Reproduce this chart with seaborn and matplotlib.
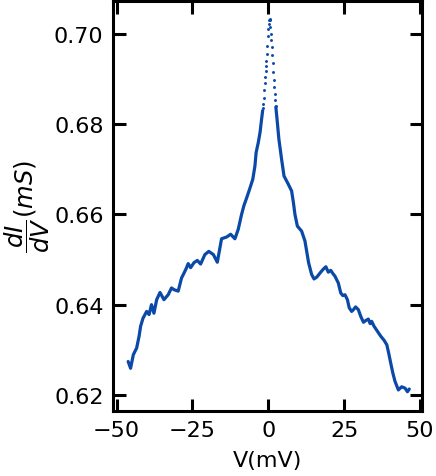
import matplotlib
matplotlib.use("Agg")
import matplotlib.pyplot as plt
import seaborn as sns
import numpy as np

# Left branch (V in mV, dI/dV in mS)
v_left = [-46.2, -45.4, -44.5, -43.4, -42.6, -42.1, -41.3, -40.1, -39.3, -38.5,
          -37.7, -36.8, -35.7, -34.4, -33.0, -31.9, -31.0, -29.7, -28.6, -28.0,
          -27.2, -26.4, -25.6, -24.5, -23.4, -22.3, -20.9, -19.6, -18.1, -16.8,
          -15.4, -13.7, -12.4, -11.0, -9.9, -8.8, -8.0, -7.1, -6.0, -5.1,
          -4.4, -4.0, -3.3, -2.7, -2.2, -1.85]
g_left = [0.6274, 0.6259, 0.6289, 0.6304, 0.6330, 0.6352, 0.6370, 0.6385, 0.6378, 0.6400,
          0.6381, 0.6411, 0.6427, 0.6411, 0.6422, 0.6437, 0.6433, 0.6430, 0.6459, 0.6467,
          0.6478, 0.6491, 0.6482, 0.6493, 0.6498, 0.6490, 0.6511, 0.6518, 0.6511, 0.6494,
          0.6546, 0.6550, 0.6556, 0.6546, 0.6567, 0.6600, 0.6620, 0.6637, 0.6659, 0.6678,
          0.6707, 0.6737, 0.6759, 0.6782, 0.6811, 0.6830]

# Peak region (sparse points)
v_peak = [-1.75, -1.65, -1.42, -1.32, -1.09, -0.99, -0.86, -0.76, -0.66, -0.53,
          -0.33, -0.20, 0.0, 0.13, 0.23, 0.46, 0.66, 0.66, 0.89, 0.99,
          1.22, 1.32, 1.55, 1.65, 1.78, 1.88, 2.11, 2.21, 2.44]
g_peak = [0.6835, 0.6844, 0.6859, 0.6876, 0.6891, 0.6905, 0.6917, 0.6928, 0.6939, 0.6956,
          0.6974, 0.6996, 0.7011, 0.7022, 0.7031, 0.7034, 0.7031, 0.7016, 0.7000, 0.6987,
          0.6970, 0.6953, 0.6935, 0.6916, 0.6898, 0.6882, 0.6867, 0.6854, 0.6841]

# Right branch
v_right = [2.5, 2.8, 3.5, 4.4, 5.2, 6.6, 7.7, 8.3, 8.8, 9.6,
           11.0, 12.1, 13.3, 14.3, 15.1, 16.0, 17.3, 18.2, 19.0, 19.8,
           20.6, 21.3, 22.0, 23.1, 23.9, 24.6, 25.3, 26.1, 26.7, 27.5,
           28.1, 28.8, 29.7, 30.5, 31.4, 32.2, 33.0, 33.6, 34.1, 34.9,
           36.0, 37.1, 38.2, 39.1, 39.7, 40.4, 41.1, 41.8, 42.9, 44.0,
           45.1, 45.9, 46.5]
g_right = [0.6838, 0.6818, 0.6767, 0.6722, 0.6685, 0.6667, 0.6652, 0.6626, 0.6600, 0.6574,
           0.6563, 0.6541, 0.6493, 0.6467, 0.6457, 0.6461, 0.6472, 0.6479, 0.6484, 0.6472,
           0.6476, 0.6469, 0.6463, 0.6448, 0.6426, 0.6420, 0.6422, 0.6411, 0.6393, 0.6385,
           0.6389, 0.6395, 0.6389, 0.6374, 0.6361, 0.6365, 0.6368, 0.6358, 0.6363, 0.6352,
           0.6341, 0.6330, 0.6321, 0.6311, 0.6293, 0.6270, 0.6248, 0.6230, 0.6211, 0.6218,
           0.6215, 0.6207, 0.6213]

x_ticks = [-50, -25, 0, 25, 50]
y_ticks = [0.62, 0.64, 0.66, 0.68, 0.70]

color = "#0b49a8"

sns.set_style("ticks")
plt.rcParams['font.family'] = ['DejaVu Sans']
plt.rcParams.update({'text.color': 'black', 'axes.labelcolor': 'black',
                     'xtick.color': 'black', 'ytick.color': 'black',
                     'axes.edgecolor': 'black'})

fig = plt.figure(figsize=(4.36, 4.77), dpi=100)
ax = fig.add_axes([113.3 / 436, 1 - 411.7 / 477, (421.7 - 113.3) / 436, (411.7 - 1.5) / 477])

sns.lineplot(x=v_left, y=g_left, ax=ax, color=color, lw=2.3, sort=False, estimator=None)
sns.lineplot(x=v_right, y=g_right, ax=ax, color=color, lw=2.3, sort=False, estimator=None)
sns.scatterplot(x=v_peak, y=g_peak, ax=ax, color=color, s=4.5, linewidth=0)

ax.set_xlim(-51.1, 50.6)
ax.set_ylim(0.6165, 0.7074)
ax.set_xticks(x_ticks)
ax.set_yticks(y_ticks)
ax.set_yticklabels([f"{t:.2f}" for t in y_ticks])
ax.set_xticklabels([str(t).replace('-', '\u2212') for t in x_ticks])

for s in ax.spines.values():
    s.set_linewidth(2.2)
    s.set_visible(True)
    s.set_color('black')
ax.tick_params(axis='both', which='major', direction='in', length=9, width=2.2,
               top=True, right=True, labelsize=16, color='black', labelcolor='black')
ax.tick_params(axis='y', pad=7)
ax.tick_params(axis='x', pad=7)

ax.set_xlabel("V(mV)", fontsize=16, labelpad=7, color='black')
ax.set_ylabel(r"$\dfrac{dI}{dV}(mS)$", fontsize=17.5, color='black')
ax.yaxis.set_label_coords((2.0 - 113.3) / 308.4, 0.5)
ax.yaxis.label.set_horizontalalignment('center')
ax.yaxis.label.set_verticalalignment('top')

fig.savefig("out.png", dpi=100)
